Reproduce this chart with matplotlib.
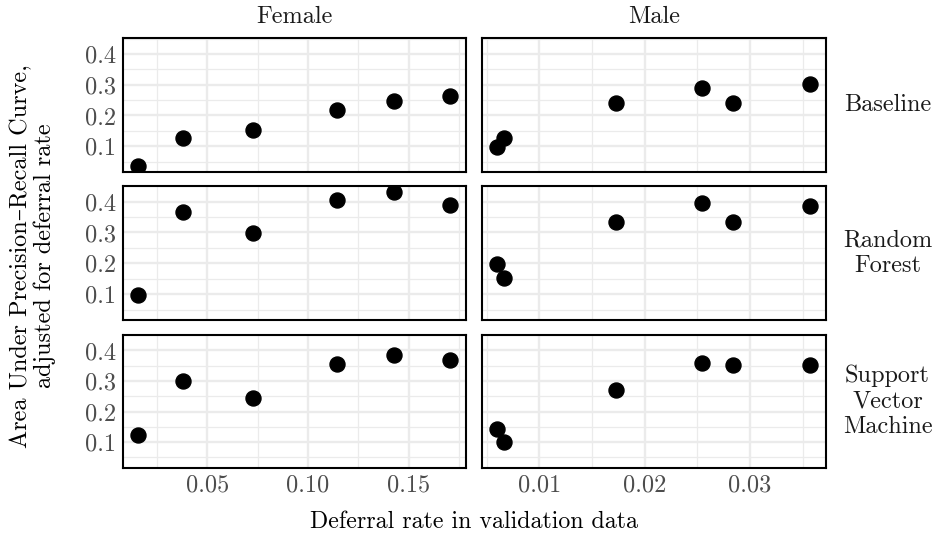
import matplotlib
matplotlib.use("Agg")
import matplotlib.pyplot as plt
import numpy as np
from matplotlib.ticker import FixedLocator, FormatStrFormatter

plt.rcParams["font.family"] = ["cmr10", "DejaVu Serif"]
plt.rcParams["axes.formatter.use_mathtext"] = True

sexes = ["Female", "Male"]
models = ["Baseline", "Random\nForest", "Support\nVector\nMachine"]

female_rate = [0.0158, 0.0379, 0.0728, 0.1145, 0.1426, 0.1706]
male_rate = [0.0060, 0.00665, 0.0173, 0.0254, 0.0284, 0.0357]

female_auc = {
    "Baseline": [0.036, 0.128, 0.154, 0.218, 0.246, 0.262],
    "Random\nForest": [0.098, 0.368, 0.298, 0.405, 0.431, 0.389],
    "Support\nVector\nMachine": [0.124, 0.299, 0.246, 0.357, 0.386, 0.370],
}
male_auc = {
    "Baseline": [0.098, 0.128, 0.240, 0.289, 0.240, 0.302],
    "Random\nForest": [0.198, 0.153, 0.333, 0.396, 0.333, 0.386],
    "Support\nVector\nMachine": [0.143, 0.100, 0.270, 0.360, 0.353, 0.353],
}

y_major = [0.1, 0.2, 0.3, 0.4]
y_minor = [0.05, 0.15, 0.25, 0.35, 0.45]
x_major = {"Female": [0.05, 0.10, 0.15], "Male": [0.01, 0.02, 0.03]}
x_minor = {"Female": [0.025, 0.075, 0.125, 0.175], "Male": [0.005, 0.015, 0.025, 0.035]}

W, H = 935, 536
fig = plt.figure(figsize=(W / 100, H / 100), dpi=100)

# panel edges in pixels, measured from the top-left corner
cols = [(122.7, 466.0), (481.7, 825.7)]
rows = [(38.3, 172.0), (186.0, 320.0), (335.0, 467.7)]


def expand(vals, f=0.05):
    lo, hi = min(vals), max(vals)
    pad = (hi - lo) * f
    return lo - pad, hi + pad


all_y = [v for d in (female_auc, male_auc) for vs in d.values() for v in vs]
ylim = expand(all_y)
xlims = {"Female": expand(female_rate), "Male": expand(male_rate)}
rates = {"Female": female_rate, "Male": male_rate}
aucs = {"Female": female_auc, "Male": male_auc}

grid_c = "#EBEBEB"
tick_c = "#4D4D4D"
fs = 17.5

for r, model in enumerate(models):
    for c, sex in enumerate(sexes):
        x0, x1 = cols[c]
        y0, y1 = rows[r]
        ax = fig.add_axes([x0 / W, 1 - y1 / H, (x1 - x0) / W, (y1 - y0) / H])
        ax.set_xlim(*xlims[sex])
        ax.set_ylim(*ylim)
        for v in y_minor:
            ax.axhline(v, color=grid_c, lw=0.9, zorder=0)
        for v in y_major:
            ax.axhline(v, color=grid_c, lw=1.7, zorder=0)
        for v in x_minor[sex]:
            ax.axvline(v, color=grid_c, lw=0.9, zorder=0)
        for v in x_major[sex]:
            ax.axvline(v, color=grid_c, lw=1.7, zorder=0)
        ax.plot(rates[sex], aucs[sex][model], "o", color="black", ms=10.8, zorder=3)
        ax.xaxis.set_major_locator(FixedLocator(x_major[sex]))
        ax.yaxis.set_major_locator(FixedLocator(y_major))
        ax.xaxis.set_major_formatter(FormatStrFormatter("%.2f"))
        ax.yaxis.set_major_formatter(FormatStrFormatter("%.1f"))
        ax.tick_params(length=0, labelsize=fs, labelcolor=tick_c, pad=5)
        if c == 1:
            ax.set_yticklabels([])
        if r < 2:
            ax.set_xticklabels([])
        for s in ax.spines.values():
            s.set_color("black")
            s.set_linewidth(1.5)
        if r == 0:
            ax.text(0.5, 1 + 21.6 / (y1 - y0), sex, transform=ax.transAxes,
                    ha="center", va="center", fontsize=fs, color="#1A1A1A")
        if c == 1:
            ax.text(887.5 / W, 1 - (y0 + y1) / 2 / H, model, transform=fig.transFigure,
                    ha="center", va="center", fontsize=fs, color="#1A1A1A",
                    linespacing=1.2)

fig.text(474.2 / W, 1 - 521.7 / H, "Deferral rate in validation data",
         ha="center", va="center", fontsize=17.2)
fig.text(33 / W, 1 - 256 / H,
         "Area Under Precision\u2013Recall Curve,\nadjusted for deferral rate",
         ha="center", va="center", rotation=90, fontsize=fs, linespacing=1.1)

fig.savefig("out.png", dpi=100)
